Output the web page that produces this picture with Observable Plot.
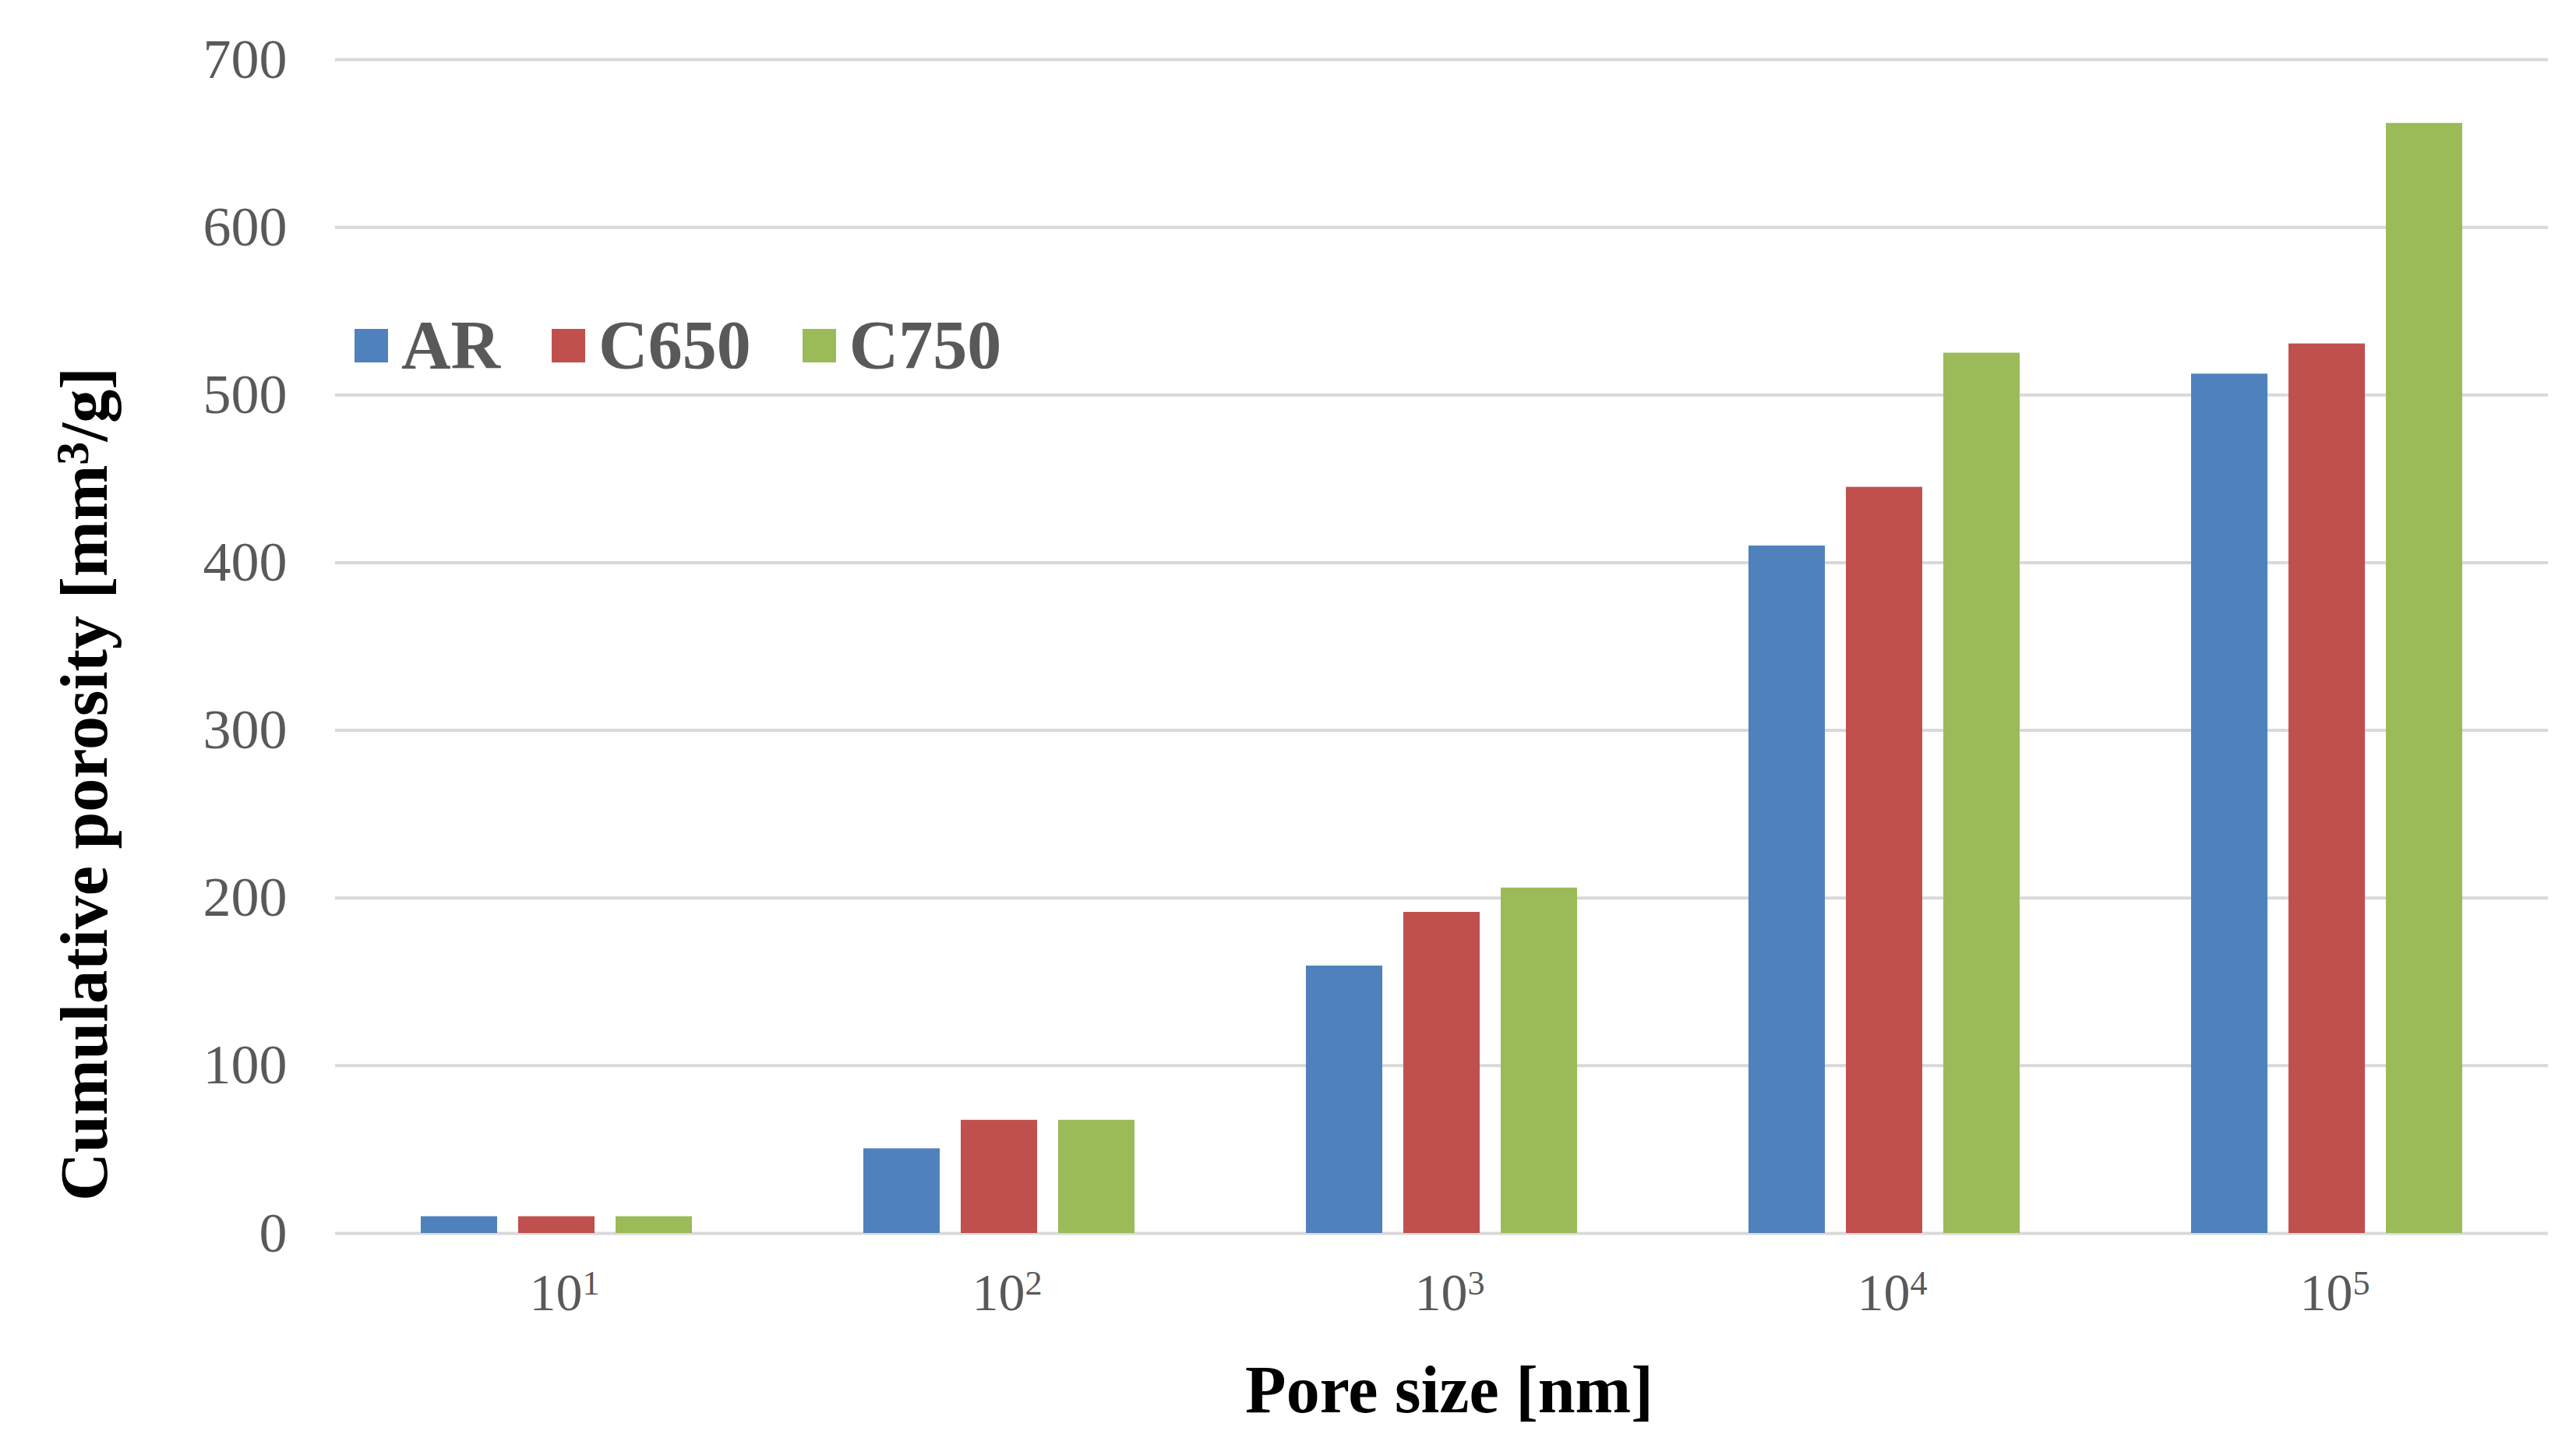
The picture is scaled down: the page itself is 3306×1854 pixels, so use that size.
<!DOCTYPE html>
<html>
<head>
<meta charset="utf-8">
<script src="https://cdn.jsdelivr.net/npm/d3@7"></script>
<script src="https://cdn.jsdelivr.net/npm/@observablehq/plot@0.6"></script>
<style>
html, body { margin: 0; padding: 0; background: #fff; }
#wrap { position: relative; width: 3306px; height: 1854px; font-family: "Liberation Serif", "Times New Roman", serif; }
#legend { position: absolute; left: 455px; top: 399px; display: flex; align-items: center; font-weight: bold; color: #595959; font-size: 88px; line-height: 1; }
.item { display: flex; align-items: center; margin-right: 66px; }
.sw { width: 43px; height: 43px; margin-right: 17px; }
#ytitle { position: absolute; left: 108px; top: 1006px; transform: translate(-50%, -50%) rotate(-90deg); white-space: nowrap; font-weight: bold; font-size: 86px; line-height: 1; color: #000; }
#xtitle { position: absolute; left: 1860px; top: 1783px; transform: translate(-50%, -50%); white-space: nowrap; font-weight: bold; font-size: 86px; line-height: 1; color: #000; }
sup { font-size: 0.7em; vertical-align: 0.4em; line-height: 0; }
</style>
</head>
<body>
<div id="wrap"></div>
<script>
const exponents = [1, 2, 3, 4, 5];
const series = ["AR", "C650", "C750"];
const arValues = [10, 50.5, 159.5, 410, 512.5];
const c650Values = [10, 67.5, 191.5, 445, 530.5];
const c750Values = [10, 67.5, 206, 525, 662];
const colors = ["#4F81BD", "#C0504D", "#9BBB59"];
const yTicks = [0, 100, 200, 300, 400, 500, 600, 700];
const xTitle = "Pore size [nm]";
const yTitleParts = ["Cumulative porosity [mm", "3", "/g]"];

const valuesBySeries = [arValues, c650Values, c750Values];
const rows = [];
series.forEach((s, i) => exponents.forEach((e, j) => rows.push({g: e, s, v: valuesBySeries[i][j]})));

const chart = Plot.plot({
  width: 3306,
  height: 1854,
  marginLeft: 430,
  marginRight: 36,
  marginTop: 76,
  marginBottom: 272,
  style: {fontFamily: "Liberation Serif, Times New Roman, serif", color: "#595959", background: "white", overflow: "visible"},
  fx: {domain: exponents, padding: 0, label: null},
  x: {domain: series, paddingInner: 0.214, paddingOuter: 0.861, axis: null},
  y: {domain: [0, 700], label: null},
  color: {domain: series, range: colors},
  marks: [
    Plot.ruleY(yTicks, {stroke: "#D9D9D9", strokeWidth: 4}),
    Plot.barY(rows, {fx: "g", x: "s", y: "v", fill: "s"}),
    Plot.axisY({ticks: yTicks, tickSize: 0, tickPadding: 62, fontSize: 72, label: null}),
    Plot.axisFx({anchor: "bottom", tickSize: 0, tickPadding: 50, fontSize: 68, dx: 10, label: null, tickFormat: d => `10^${d}`})
  ]
});

const wrap = document.getElementById("wrap");
wrap.appendChild(chart);

// superscripts for x tick labels
chart.querySelectorAll("text").forEach(t => {
  const txt = t.textContent;
  if (txt.includes("^")) {
    const [base, exp] = txt.split("^");
    t.textContent = base;
    const ts = document.createElementNS("http://www.w3.org/2000/svg", "tspan");
    ts.setAttribute("font-size", "0.65em");
    ts.setAttribute("dy", "-0.45em");
    ts.textContent = exp;
    t.appendChild(ts);
  }
});

// legend
const legend = document.createElement("div");
legend.id = "legend";
series.forEach((s, i) => {
  const item = document.createElement("div");
  item.className = "item";
  const sw = document.createElement("span");
  sw.className = "sw";
  sw.style.background = colors[i];
  const lab = document.createElement("span");
  lab.textContent = s;
  item.appendChild(sw);
  item.appendChild(lab);
  legend.appendChild(item);
});
wrap.appendChild(legend);

// axis titles
const yt = document.createElement("div");
yt.id = "ytitle";
yt.innerHTML = `${yTitleParts[0]}<sup>${yTitleParts[1]}</sup>${yTitleParts[2]}`;
wrap.appendChild(yt);
const xt = document.createElement("div");
xt.id = "xtitle";
xt.textContent = xTitle;
wrap.appendChild(xt);
</script>
</body>
</html>
